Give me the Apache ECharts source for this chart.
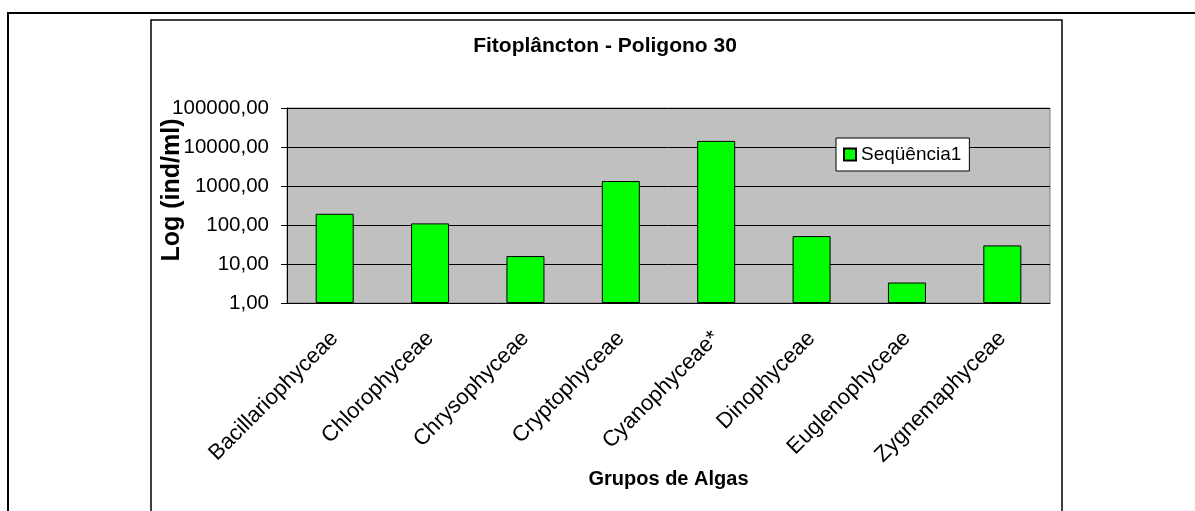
<!DOCTYPE html>
<html>
<head>
<meta charset="utf-8">
<script src="https://cdn.jsdelivr.net/npm/echarts@6/dist/echarts.min.js"></script>
<style>
  html, body { margin: 0; padding: 0; background: #fff; }
  #fito-chart { width: 1195px; height: 511px; }
</style>
</head>
<body>
<div id="fito-chart"></div>
<script>
const categories = ['Bacillariophyceae', 'Chlorophyceae', 'Chrysophyceae', 'Cryptophyceae',
  'Cyanophyceae*', 'Dinophyceae', 'Euglenophyceae', 'Zygnemaphyceae']
const seq1 = [194, 110, 16, 1340, 14350, 52, 3.35, 30]
const seriesName = 'Seqüência1'

const chartDom = document.getElementById('fito-chart')
const myChart = echarts.init(chartDom)
const font = 'Liberation Sans, Arial, sans-serif'

const option = {
  backgroundColor: '#fff',
  animation: false,
  textStyle: {
    fontFamily: font,
    color: '#000'
  },
  title: {
    text: 'Fitoplâncton - Poligono 30',
    left: 605,
    top: 36,
    padding: 0,
    textAlign: 'center',
    textStyle: { fontSize: 21, fontWeight: 'bold', color: '#000', fontFamily: font }
  },
  legend: {
    data: [seriesName],
    left: 836,
    top: 138,
    orient: 'vertical',
    padding: [7, 8, 7, 7],
    itemWidth: 12,
    itemHeight: 12,
    icon: 'rect',
    backgroundColor: '#fff',
    borderColor: '#000',
    borderWidth: 1,
    borderRadius: 0,
    textStyle: { fontSize: 19, color: '#000', fontFamily: font }
  },
  graphic: [
    // outer page frame
    { type: 'rect', shape: { x: 8, y: 13, width: 1400, height: 700 },
      style: { fill: null, stroke: '#000', lineWidth: 2 }, silent: true },
    // chart area frame
    { type: 'rect', shape: { x: 151, y: 20, width: 911, height: 700 },
      style: { fill: null, stroke: '#000', lineWidth: 1.5 }, silent: true },
    {
      type: 'text',
      x: 172,
      y: 190,
      rotation: Math.PI / 2,
      style: {
        text: 'Log (ind/ml)',
        fontSize: 25,
        fontWeight: 'bold',
        fontFamily: font,
        fill: '#000',
        textAlign: 'center',
        textVerticalAlign: 'middle'
      }
    }
  ],
  grid: {
    left: 287,
    top: 108,
    width: 763,
    height: 195,
    show: true,
    backgroundColor: '#c0c0c0',
    borderColor: '#808080',
    borderWidth: 1
  },
  xAxis: {
    type: 'category',
    data: categories,
    name: 'Grupos de Algas',
    nameLocation: 'middle',
    nameGap: 166,
    nameTextStyle: { fontSize: 20, fontWeight: 'bold', color: '#000', fontFamily: font },
    axisLine: { lineStyle: { color: '#000', width: 1 } },
    axisTick: { length: 6, lineStyle: { color: '#000' } },
    axisLabel: { rotate: 45, margin: 32, fontSize: 22, color: '#000', fontFamily: font }
  },
  yAxis: {
    type: 'log',
    logBase: 10,
    min: 1,
    max: 100000,
    axisLine: { show: true, lineStyle: { color: '#000', width: 1 } },
    axisTick: { show: true, length: 6, lineStyle: { color: '#000' } },
    splitLine: { show: true, lineStyle: { color: '#000', width: 1 } },
    axisLabel: {
      margin: 18,
      fontSize: 20.5,
      color: '#000',
      fontFamily: font,
      formatter: function (v) { return v.toFixed(2).replace('.', ',') }
    }
  },
  series: [
    {
      name: seriesName,
      type: 'bar',
      data: seq1,
      barWidth: 38,
      itemStyle: { color: '#00ff00', borderColor: '#000', borderWidth: 1 }
    }
  ]
}
option && myChart.setOption(option)
window.addEventListener('resize', function () {
  myChart.resize()
})
</script>
</body>
</html>
